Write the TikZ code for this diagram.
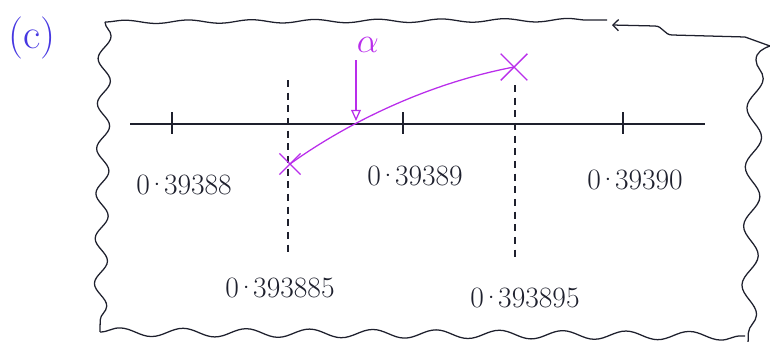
\documentclass[tikz,border=0pt]{standalone}
\usepackage{xcolor}
\usepackage{tikz}
\usetikzlibrary{arrows.meta,decorations.pathmorphing,shapes.misc}
\definecolor{pen}{RGB}{30,32,45}
\definecolor{ink}{RGB}{70,55,225}
\definecolor{hilite}{RGB}{185,45,235}
\newcommand{\pdot}{\kern-0.12em\textperiodcentered\kern-0.12em}

\begin{document}
\begin{tikzpicture}[x=0.025cm,y=-0.025cm,
  num/.style={font=\fontsize{21}{24}\selectfont,text=pen,inner sep=1pt},
  wavy/.style 2 args={draw=pen,line width=0.9pt,decorate,decoration={snake,amplitude=#1,segment length=#2}},
  guide/.style={draw=pen,line width=0.8pt,dash pattern=on 5pt off 4pt},
  xmark/.style={cross out,draw=hilite,line width=1pt,minimum size=#1,inner sep=0pt},
  pointer/.style={-{Triangle[open,length=8pt,width=7pt]},hilite,line width=0.9pt}]
\useasboundingbox (0,0) rectangle (770,342);
% frame
\coordinate (tl) at (105,22);
\coordinate (tm) at (607,20);
\coordinate (tn) at (612,25);
\coordinate (tr) at (770,46);
\coordinate (rs) at (756,60);
\coordinate (bl) at (100,332);
\coordinate (br) at (745,336);
\coordinate (bx) at (748,345);
\draw[wavy={1.2pt}{45pt}] (tl) -- (tm);
\draw[draw=pen,line width=0.9pt,{Straight Barb[length=4pt]}-] (tn) -- (655,26) to[out=0,in=180] (672,35) -- (745,37) -- (tr) to[out=200,in=90] (rs);
\draw[wavy={4.5pt}{32pt}] (tl) -- (bl);
\draw[wavy={3pt}{45pt}] (bl) -- (br);
\draw[wavy={5.5pt}{42pt}] (rs) -- (bx);
\node[font=\fontsize{30}{34}\selectfont,text=ink] (lbl) at (32,38) {(c)};
% number line
\coordinate (lineL) at (130,124);
\coordinate (lineR) at (705,124);
\draw[pen,line width=0.9pt] (lineL) -- (lineR);
\foreach \x/\v/\ly in {172/88/185,403/89/176,623/90/180}{
  \draw[pen,line width=0.9pt] (\x,112) -- (\x,134);
  \node[num] (n\v) at (\x+12,\ly) {0\pdot393\v};
}
% half-way points
\coordinate (ga) at (288,80);
\coordinate (gb) at (515,85);
\draw[guide] (ga) -- (288,255);
\draw[guide] (gb) -- (515,262);
\node[num] (h85) at (280,288) {0\pdot393885};
\node[num] (h95) at (525,298) {0\pdot393895};
% root bracket
\node[xmark=14pt] (lo) at (290,164) {};
\node[xmark=18pt] (hi) at (514,67) {};
\draw[hilite,line width=0.9pt] (lo.center) .. controls (340,128) and (420,85) .. (hi.center);
\node[text=hilite,font=\fontsize{24}{26}\selectfont] (al) at (368,45) {$\alpha$};
\coordinate (root) at (356,121);
\draw[pointer] (356,60) -- (root);
\end{tikzpicture}
\end{document}
